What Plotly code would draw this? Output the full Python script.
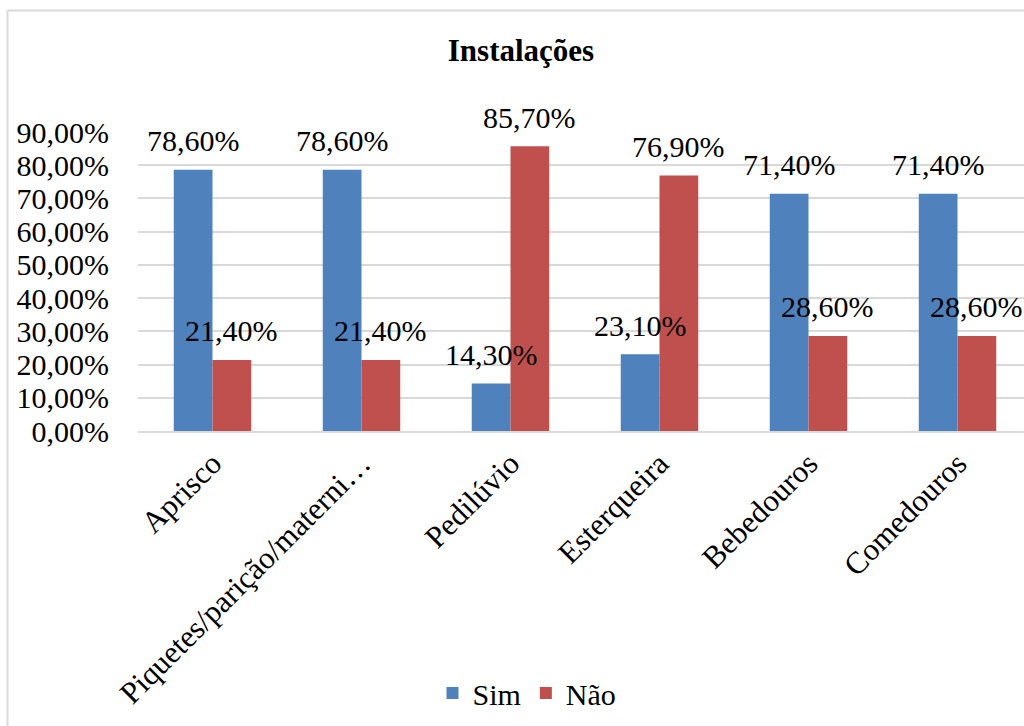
import plotly.graph_objects as go

# Survey results: share of farms with each facility
categorias = ["Aprisco", "Piquetes/parição/materni…", "Pedilúvio",
              "Esterqueira", "Bebedouros", "Comedouros"]
sim = [78.6, 78.6, 14.3, 23.1, 71.4, 71.4]
nao = [21.4, 21.4, 85.7, 76.9, 28.6, 28.6]
y_ticks = [0, 10, 20, 30, 40, 50, 60, 70, 80, 90]

AZUL = "#4F81BD"
VERMELHO = "#C0504D"
GRADE = "#D9D9D9"
FONTE = "Liberation Serif"

W, H = 1024, 726
M_L, M_R, M_T, M_B = 138, 0, 132, 295


def pct(v):
    return f"{v:.2f}".replace(".", ",") + "%"


fig = go.Figure()
fig.add_trace(go.Bar(name="Sim", x=categorias, y=sim, marker_color=AZUL,
                     marker_line=dict(width=0)))
fig.add_trace(go.Bar(name="Não", x=categorias, y=nao, marker_color=VERMELHO,
                     marker_line=dict(width=0)))

# value labels above each bar
offset_px = 19.3
annotations = []
for serie, dx in ((sim, -offset_px), (nao, offset_px)):
    for cat, v in zip(categorias, serie):
        annotations.append(dict(
            x=cat, y=v, xref="x", yref="y", text=pct(v), showarrow=False,
            xshift=dx, yshift=29, yanchor="middle", xanchor="center",
            font=dict(family=FONTE, size=30, color="black")))

plot_w = W - M_L - M_R
plot_h = H - M_T - M_B
# light chart-area frame (top and left edges)
bx = (7.5 - M_L) / plot_w
by = (H - M_B - 10.5) / plot_h
shapes = [
    dict(type="line", xref="paper", yref="paper", x0=bx, x1=1.05, y0=by, y1=by,
         line=dict(color=GRADE, width=2)),
    dict(type="line", xref="paper", yref="paper", x0=bx, x1=bx, y0=by, y1=-1.2,
         line=dict(color=GRADE, width=2)),
]

x_right = (W - M_L) / 149.0 - 0.5

fig.update_layout(
    width=W, height=H,
    margin=dict(l=M_L, r=M_R, t=M_T, b=M_B, autoexpand=False),
    paper_bgcolor="white", plot_bgcolor="white",
    barmode="group", bargap=0.48, bargroupgap=0,
    font=dict(family=FONTE, size=30, color="black"),
    title=dict(text="<b>Instalações</b>", x=521 / W, xanchor="center",
               xref="container", yref="container", y=1 - 50 / H, yanchor="middle",
               font=dict(family=FONTE, size=31, color="black")),
    legend=dict(orientation="h", xref="container", yref="container",
                x=527 / W, y=1 - 693 / H, xanchor="center", yanchor="middle",
                font=dict(family=FONTE, size=30, color="black"),
                itemwidth=30, tracegroupgap=0),
    annotations=annotations,
    shapes=shapes,
    xaxis=dict(range=[-0.5, x_right], tickangle=-45, showgrid=False,
               automargin=False,
               showline=True, linecolor=GRADE, linewidth=2, ticks="",
               tickfont=dict(family=FONTE, size=31, color="black")),
    yaxis=dict(range=[0, 90], tickvals=y_ticks,
               ticktext=[pct(v) for v in y_ticks],
               automargin=False,
               showgrid=True, gridcolor=GRADE, gridwidth=2,
               zeroline=False, showline=False, ticks="",
               ticklabelstandoff=28,
               tickfont=dict(family=FONTE, size=30, color="black")),
)

fig.write_html("out.html")
